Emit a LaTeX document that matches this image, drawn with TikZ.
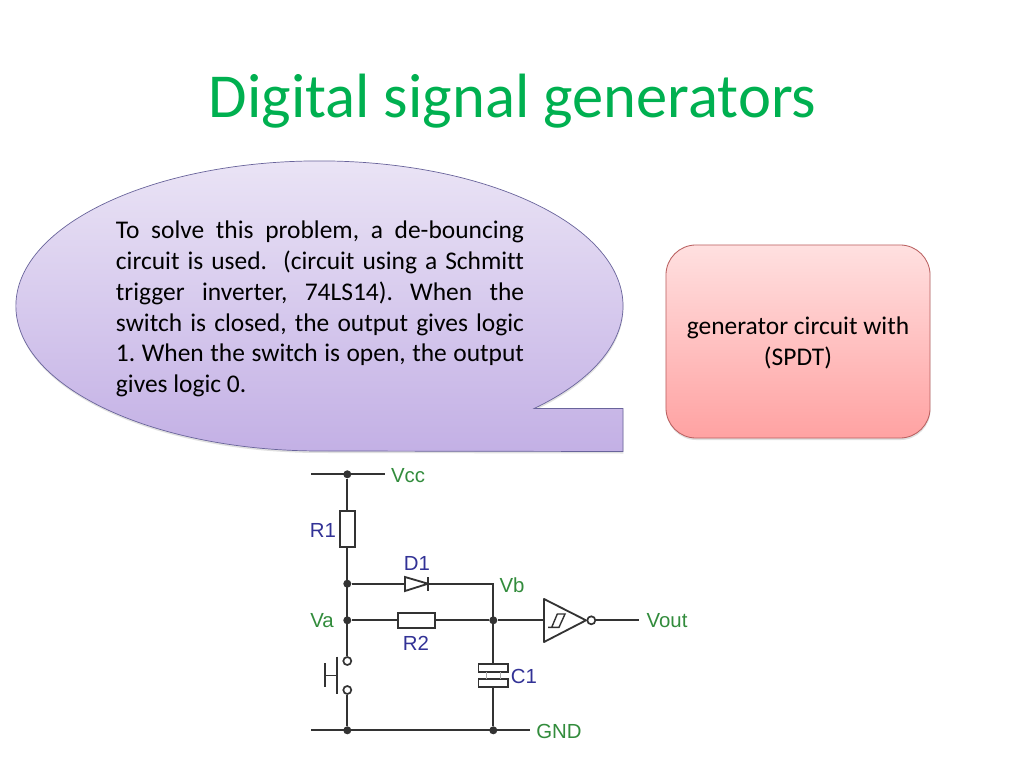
\documentclass[tikz,border=0pt]{standalone}
\usepackage{fontspec}
\setmainfont{Carlito}[Ligatures=NoCommon]
\newfontfamily\labelfont{Liberation Sans}
\usetikzlibrary{shadows}
\definecolor{title green}{RGB}{0,176,80}
\definecolor{label green}{RGB}{50,140,60}
\definecolor{label blue}{RGB}{50,50,150}
\definecolor{call edge}{RGB}{105,100,155}
\definecolor{box edge}{RGB}{185,95,95}
\frenchspacing
\begin{document}
\begin{tikzpicture}[x=0.025cm,y=-0.025cm]
\colorlet{wire}{black!80}
\tikzset{
     wired/.style={draw=wire, line width=1.5pt},
     dot/.style={circle,fill=wire,inner sep=0pt,minimum size=0.2cm},
     pin/.style={circle,draw=wire,line width=1.2pt,fill=white,inner sep=0pt,minimum size=0.2cm},
     part/.style={rectangle,draw=wire,line width=1.3pt,fill=white,inner sep=0pt},
     netlabel/.style={text=label green,font=\labelfont\fontsize{14.5}{16}\selectfont,inner sep=0pt},
     partlabel/.style={text=label blue,font=\labelfont\fontsize{14.5}{16}\selectfont,inner sep=0pt},
     softshadow/.style={drop shadow={shadow xshift=0.01cm,shadow yshift=-0.05cm,opacity=0.2,fill=black!60}},
     bodytext/.style={font=\fontsize{18.1}{21.9}\selectfont,inner sep=0pt}}
\useasboundingbox (0,0) rectangle (1024,768);
\fill[white] (0,0) rectangle (1024,768);

% The title
\node (title) at (512.5,101) [text=title green,font=\fontsize{44.5}{50}\selectfont,inner sep=0pt] {Digital signal generators};

% The callout
\path[draw=call edge,line width=0.5pt,top color={rgb,255:red,236;green,230;blue,246},bottom color={rgb,255:red,195;green,176;blue,229},softshadow]
  (534.1,408.5) arc[start angle=-45,end angle=270,x radius=7.5875cm,y radius=3.625cm] -- (623,451.5) -- (623,408.5) -- cycle;
\node (calltext) at (320,309) [bodytext,text width=10.2cm,align=justify] {To solve this problem, a de-bouncing\linebreak circuit is used.\ \ (circuit using a Schmitt\linebreak trigger inverter, 74LS14). When the\linebreak switch is closed, the output gives logic\linebreak 1. When the switch is open, the output\linebreak gives logic 0.};

% The box
\node (genbox) at (798,341.5) [rectangle,rounded corners=0.75cm,minimum width=6.6cm,minimum height=4.825cm,draw=box edge,line width=0.6pt,top color={rgb,255:red,255;green,224;blue,224},bottom color={rgb,255:red,255;green,162;blue,162},softshadow] {};
\node (gentext) at (798,343) [bodytext,align=center] {generator circuit with\\(SPDT)};

% The junctions
\coordinate (vccL) at (311,474.3);
\node (vccJ) at (347.3,474.3) [dot] {};
\coordinate (vccR) at (385,474.3);
\coordinate (gndL) at (311,730.3);
\node (gndA) at (347.3,730.3) [dot] {};
\node (gndB) at (493.3,730.3) [dot] {};
\coordinate (gndR) at (530,730.3);
\node (topJ) at (347.3,583.7) [dot] {};
\node (vaJ) at (347.3,620.3) [dot] {};
\node (vbJ) at (493.3,620.3) [dot] {};
\coordinate (corner) at (493.3,583.7);

% The parts
\node (R1) at (347.3,529) [part,minimum width=0.375cm,minimum height=0.92cm] {};
\node (R2) at (416.5,620.3) [part,minimum width=0.92cm,minimum height=0.375cm] {};
\node (swA) at (347.3,661) [pin] {};
\node (swB) at (347.3,690) [pin] {};
\node (C1a) at (493.3,668) [part,minimum width=0.74cm,minimum height=0.18cm] {};
\node (C1b) at (493.3,683) [part,minimum width=0.74cm,minimum height=0.18cm] {};
\coordinate (diodeA) at (405,583.7);
\coordinate (diodeK) at (428,583.7);
\coordinate (invIn) at (544,620.3);
\node (bubble) at (591.3,620.3) [pin] {};
\coordinate (voutR) at (639,620.3);

% The wires
\draw[wired] (vccL) -- (vccR);
\draw[wired] (gndL) -- (gndR);
\draw[wired] (vccJ) -- (R1);
\draw[wired] (R1) -- (swA);
\draw[wired] (swB) -- (gndA);
\draw[wired] (topJ) -- (diodeA);
\draw[wired] (diodeK) -- (corner) -- (C1a);
\draw[wired] (C1b) -- (gndB);
\draw[wired] (vaJ) -- (R2);
\draw[wired] (R2) -- (vbJ);
\draw[wired] (vbJ) -- (invIn);
\draw[wired] (bubble) -- (voutR);

% The symbols
\draw[wire,line width=1.3pt,fill=white] (diodeA) -- (405,577) -- (diodeK) -- (405,591) -- cycle;
\draw[wire,line width=1.3pt] (428,577) -- (428,591);
\draw[wire,line width=1.3pt,line join=round] (invIn) -- (544,599) -- (586,620.3) -- (544,642) -- cycle;
\draw[wire,line width=1pt] (548,627.3) -- (559,627.3) -- (565,614) -- (557.3,614) -- (551.7,627.3);
\draw[wire,line width=1.3pt] (336.7,656.7) -- (336.7,694.3);
\draw[wire,line width=1.3pt] (325,675.5) -- (336.7,675.5);
\draw[wire,line width=1.3pt] (325,663) -- (325,687);
\draw[wire!40,line width=0.4pt] (486,672) -- (486,679);
\draw[wire!40,line width=0.4pt] (500,672) -- (500,679);

% The labels
\node (vccT) at (408,475.5) [netlabel] {Vcc};
\node (R1T) at (323,530) [partlabel] {R1};
\node (D1T) at (417,563) [partlabel] {D1};
\node (VbT) at (512,585) [netlabel] {Vb};
\node (VaT) at (322,621) [netlabel] {Va};
\node (R2T) at (416,643) [partlabel] {R2};
\node (C1T) at (524,676) [partlabel] {C1};
\node (VoutT) at (667,621) [netlabel] {Vout};
\node (gndT) at (559,731) [netlabel] {GND};
\end{tikzpicture}
\end{document}
